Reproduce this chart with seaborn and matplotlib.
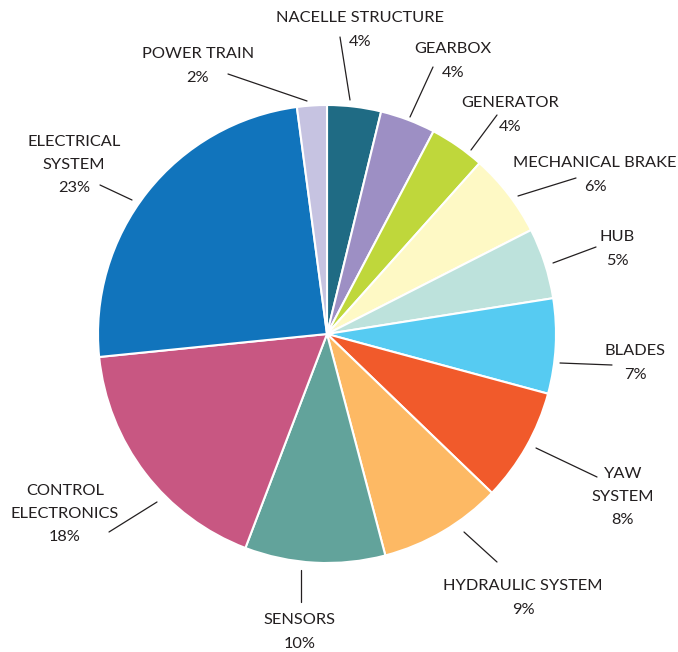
import matplotlib
matplotlib.use("Agg")
import matplotlib.pyplot as plt
import seaborn as sns

# data: component slices, clockwise from top (slice sizes)
components = ["NACELLE STRUCTURE", "GEARBOX", "GENERATOR", "MECHANICAL BRAKE", "HUB", "BLADES",
              "YAW\nSYSTEM", "HYDRAULIC SYSTEM", "SENSORS", "CONTROL\nELECTRONICS",
              "ELECTRICAL\nSYSTEM", "POWER TRAIN"]
shares = [3.8, 3.9, 3.9, 5.9, 5.0, 6.7, 8.0, 8.7, 9.9, 17.6, 24.5, 2.1]
pct_labels = ["4%", "4%", "4%", "6%", "5%", "7%", "8%", "9%", "10%", "18%", "23%", "2%"]
colors = ["#1f6b84", "#9d8fc4", "#bfd73b", "#fef9c5", "#bde2dc", "#56cbf2",
          "#f15a2b", "#fdb964", "#62a39b", "#c85782", "#1174bc", "#c6c3e1"]

# label layout in pixel coords (x, y of text block centre)
label_pos = [(360, 30), (453, 61), (510, 115), (595, 175), (617, 249), (635, 363),
             (623, 497), (523, 598), (300, 632), (65, 514), (74, 165), (198, 66)]
# leader lines in pixel coords: (x0, y0, x1, y1)
leaders = [(340, 37, 350, 100), (433, 67, 410, 117), (497, 115, 471, 150),
           (576, 178, 518, 196), (596, 247, 553, 263), (612, 365, 560, 363),
           (597, 477, 536, 448), (497, 562, 464, 532), (301, 570, 301, 602),
           (109, 532, 157, 502), (100, 185, 132, 200), (228, 74, 307, 101)]

W, H = 678, 652
sns.set_theme(style="white")
plt.rcParams["font.family"] = ["Lato", "DejaVu Sans"]

fig = plt.figure(figsize=(W / 100, H / 100), dpi=100)
ax = fig.add_axes([0, 0, 1, 1])

ax.pie(shares, colors=colors, startangle=90, counterclock=False,
       center=(327, H - 334), radius=229,
       wedgeprops=dict(edgecolor="white", linewidth=1.5))

ax.set_xlim(0, W)
ax.set_ylim(0, H)
ax.set_aspect("equal")
ax.axis("off")

text_color = "#231f20"
for name, pct, (x, y) in zip(components, pct_labels, label_pos):
    ax.text(x, H - y, f"{name}\n{pct}", ha="center", va="center",
            fontsize=11.8, color=text_color, linespacing=1.85)

for x0, y0, x1, y1 in leaders:
    ax.plot([x0, x1], [H - y0, H - y1], color=text_color, linewidth=0.9)

fig.savefig("out.png", dpi=100)
